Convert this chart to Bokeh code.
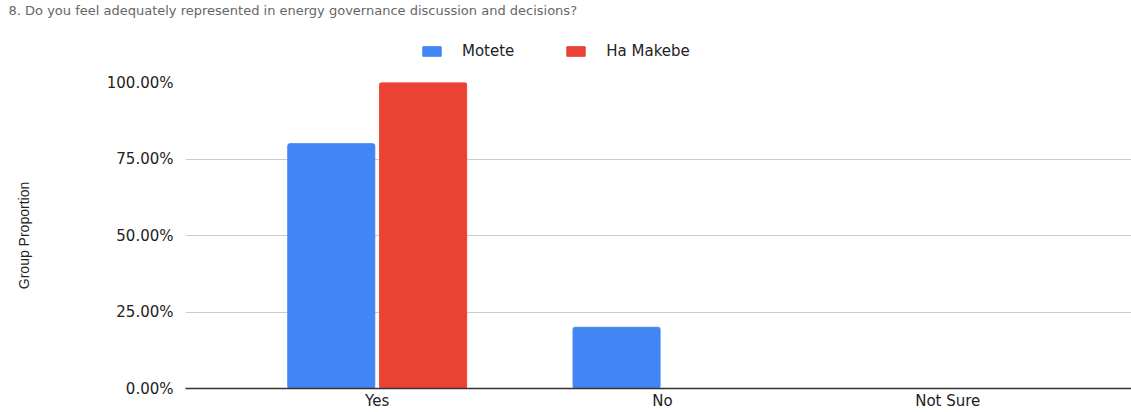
from bokeh.plotting import figure
from bokeh.models import (ColumnDataSource, Range1d, FixedTicker, NumeralTickFormatter,
                          Legend, LegendItem)
from bokeh.layouts import column
from bokeh.embed import file_html
from bokeh.resources import INLINE

title_text = "8. Do you feel adequately represented in energy governance discussion and decisions?"
categories = ["Yes", "No", "Not Sure"]
series_names = ["Motete", "Ha Makebe"]
motete = [0.80, 0.20, 0.0]
ha_makebe = [1.00, 0.0, 0.0]
y_ticks = [0.0, 0.25, 0.5, 0.75, 1.0]
colors = ["#4285F4", "#EA4335"]

idx = list(range(len(categories)))
offset = 0.161
bw = 0.305
src = ColumnDataSource(dict(
    x_m=[i - offset for i in idx], x_h=[i + offset for i in idx],
    motete=motete, ha=ha_makebe))

TOP_H = 70
MAIN_H = 412 - TOP_H
LEFT = 185

# ---- header (title + legend) ----
top = figure(width=1131, height=TOP_H, output_backend="svg", toolbar_location=None,
             x_range=Range1d(-0.672, 2.644), y_range=Range1d(10, 11),
             min_border=0, min_border_left=LEFT)
top.axis.visible = False
top.grid.grid_line_color = None
top.outline_line_color = None
top.title.text = title_text
top.title.text_font = "DejaVu Sans"
top.title.text_font_size = "13px"
top.title.text_font_style = "normal"
top.title.text_color = "#666666"
top.title.offset = 8 - LEFT
top.title.standoff = 0

d1 = top.vbar(x="x_m", top="motete", width=bw, source=src, color=colors[0])
d2 = top.vbar(x="x_h", top="ha", width=bw, source=src, color=colors[1])
legend = Legend(items=[LegendItem(label=series_names[0], renderers=[d1]),
                       LegendItem(label=series_names[1], renderers=[d2])],
                orientation="horizontal", location=(420 - LEFT, 10),
                glyph_width=23, glyph_height=12, label_text_font="DejaVu Sans",
                label_text_font_size="15px", label_text_color="#222222",
                spacing=50, label_standoff=19, padding=0, margin=0,
                border_line_color=None, background_fill_alpha=0)
top.add_layout(legend)

# ---- main chart ----
p = figure(width=1131, height=MAIN_H, output_backend="svg", toolbar_location=None,
           x_range=Range1d(-0.672, 2.644), y_range=Range1d(0, 1),
           min_border_left=LEFT, min_border_right=0, min_border_top=82 - TOP_H,
           min_border_bottom=22)
p.outline_line_color = None

p.vbar(x="x_m", top="motete", width=bw, source=src, color=colors[0], border_radius=2)
p.vbar(x="x_h", top="ha", width=bw, source=src, color=colors[1], border_radius=2)

p.xaxis.ticker = FixedTicker(ticks=idx)
p.xaxis.major_label_overrides = {i: c for i, c in zip(idx, categories)}
p.xaxis.major_tick_line_color = None
p.xaxis.minor_tick_line_color = None
p.xaxis.major_tick_out = 0
p.xaxis.major_label_standoff = 3
p.xaxis.axis_line_color = "#333333"
p.xaxis.axis_line_width = 1.5
p.xaxis.major_label_text_font = "DejaVu Sans"
p.xaxis.major_label_text_font_size = "15px"
p.xaxis.major_label_text_color = "#222222"
p.xgrid.grid_line_color = None

p.yaxis.ticker = FixedTicker(ticks=y_ticks)
p.yaxis.formatter = NumeralTickFormatter(format="0.00%")
p.yaxis.axis_line_color = None
p.yaxis.major_tick_line_color = None
p.yaxis.minor_tick_line_color = None
p.yaxis.major_tick_out = 0
p.yaxis.major_label_standoff = 12
p.yaxis.major_label_text_font = "DejaVu Sans"
p.yaxis.major_label_text_font_size = "15px"
p.yaxis.major_label_text_color = "#222222"
p.yaxis.axis_label = "Group Proportion"
p.yaxis.axis_label_text_font = "Liberation Sans"
p.yaxis.axis_label_text_font_style = "normal"
p.yaxis.axis_label_text_font_size = "14px"
p.yaxis.axis_label_text_color = "#222222"
p.yaxis.axis_label_standoff = 72
p.ygrid.grid_line_color = "#cccccc"
p.ygrid.grid_line_width = 1

layout = column(top, p, spacing=0)
open("out.html", "w").write(file_html(layout, INLINE))
